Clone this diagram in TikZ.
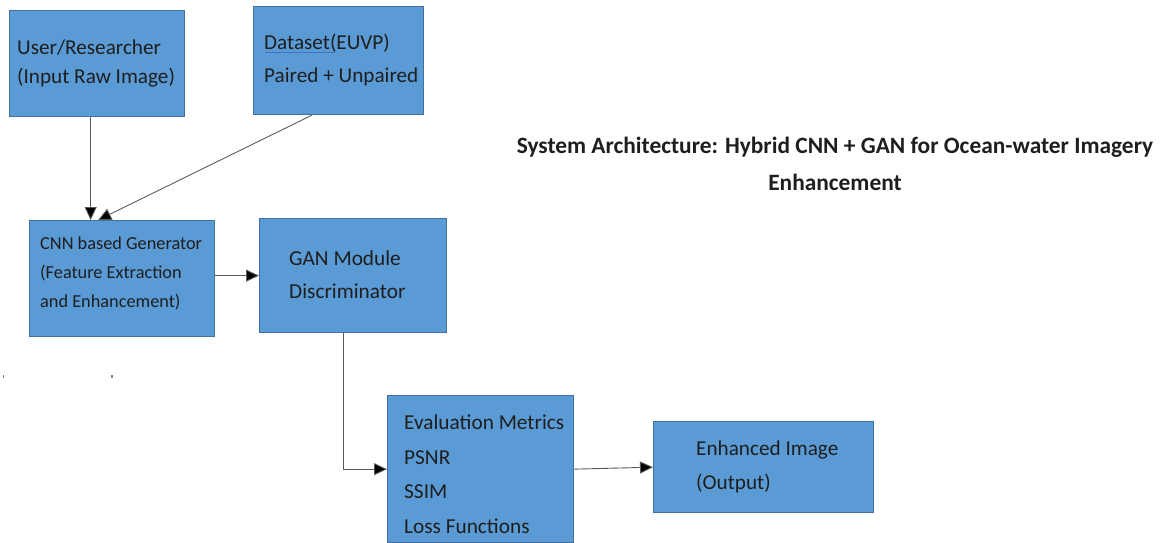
\documentclass[tikz,border=0pt]{standalone}
\usepackage{fontspec}
\setmainfont{Carlito}
\usetikzlibrary{arrows.meta,calc}
\definecolor{boxfill}{HTML}{5B9BD5}
\definecolor{boxline}{HTML}{41719C}
\definecolor{arrline}{HTML}{5A5A5A}
\definecolor{txt}{HTML}{1E1E1E}
\definecolor{spell}{HTML}{4472C4}
\tikzset{
  box/.style={rectangle, draw=boxline, fill=boxfill, line width=1.3pt, anchor=north west, inner sep=0pt},
  lbl/.style={anchor=base west, inner sep=0pt, align=left, text=txt},
  arr/.style={draw=arrline, line width=0.9pt, -{Triangle[length=13pt,width=12pt,fill=black]}},
}
\begin{document}
\begin{tikzpicture}[x=1pt,y=-1pt]
\useasboundingbox (0,0) rectangle (1161,543);
% boxes
\node[box, minimum width=175, minimum height=106] (user) at (9,10) {};
\node[box, minimum width=170, minimum height=108] (data) at (253,6) {};
\node[box, minimum width=185, minimum height=116] (cnn) at (29,220) {};
\node[box, minimum width=187, minimum height=114] (gan) at (259,218) {};
\node[box, minimum width=186, minimum height=147] (eval) at (387,395) {};
\node[box, minimum width=220, minimum height=91] (enh) at (653,421) {};
% texts (base anchor = baseline of last line)
\node[lbl, font=\fontsize{21.2}{28.5}\selectfont] (usert) at (17,83.5) {User/Researcher\\(Input Raw Image)};
\node[lbl, font=\fontsize{21.2}{33}\selectfont] (datat) at (264,82) {Dataset(EUVP)\\Paired + Unpaired};
\node[lbl, font=\fontsize{18.3}{29}\selectfont] (cnnt) at (40,307) {CNN based Generator\\(Feature Extraction\\and Enhancement)};
\node[lbl, font=\fontsize{21.3}{33}\selectfont] (gant) at (289,298) {GAN Module\\Discriminator};
\node[lbl, font=\fontsize{21.3}{34.5}\selectfont] (evalt) at (404,533) {Evaluation Metrics\\PSNR\\SSIM\\Loss Functions};
\node[lbl, font=\fontsize{21.2}{34}\selectfont] (enht) at (696,489.5) {Enhanced Image\\(Output)};
\node[anchor=base, inner sep=0pt, align=center, text=txt, font=\bfseries\fontsize{23.4}{37}\selectfont] (title) at (835,190) {System Architecture: Hybrid CNN + GAN for Ocean-water Imagery\\Enhancement};
% spell-check underline
\draw[spell, line width=0.8pt] (265,52.5) -- (335,52.5);
% connectors
\draw[arr] ([xshift=-6.5]user.south) -- ([xshift=-6.5]user.south |- cnn.north);
\draw[arr] ([xshift=-27]data.south) -- ([xshift=-24]cnn.north);
\draw[arr] (cnn.east |- gan.west) -- (gan.west);
\draw[arr] ([xshift=-9.5]gan.south) |- (eval.west);
\draw[arr] (eval.east) -- (enh.west);
% stray dots
\fill[gray] (2.5,374.5) rectangle (4,377.5);
\fill[gray] (111,374.5) rectangle (113,377.5);
\end{tikzpicture}
\end{document}
